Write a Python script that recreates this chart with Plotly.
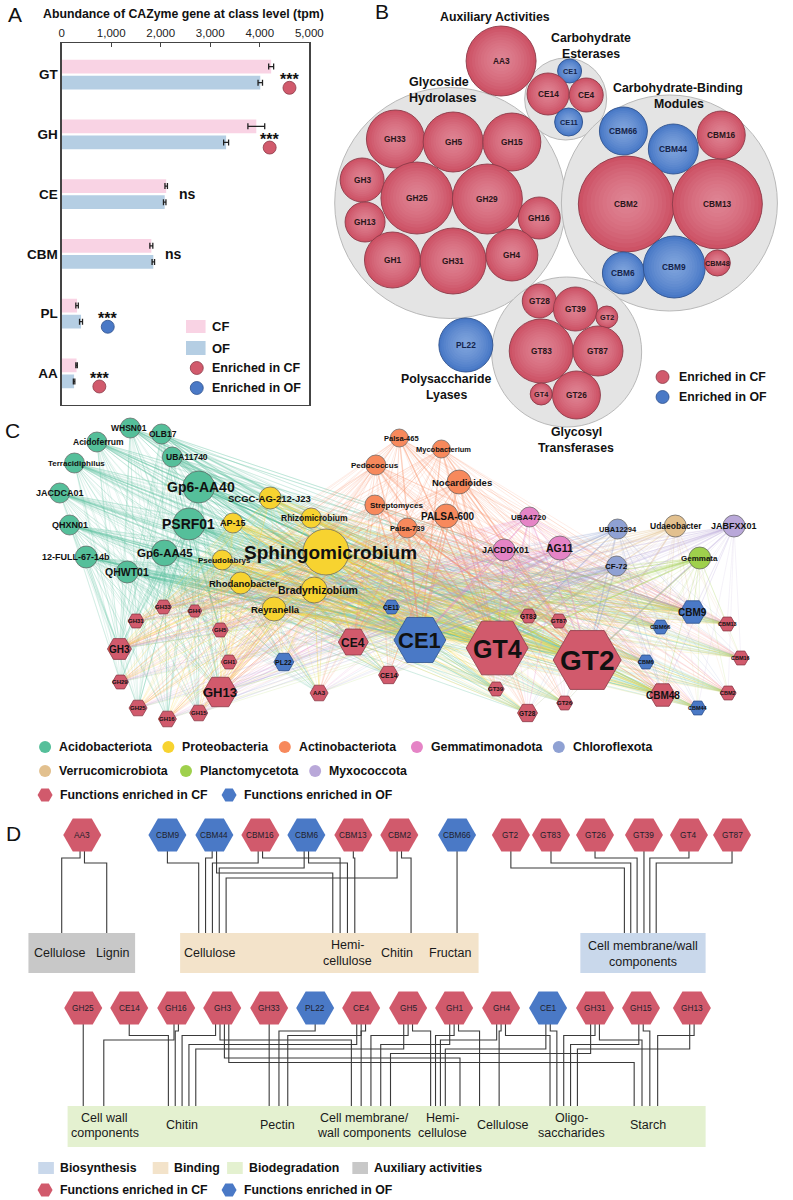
import plotly.graph_objects as go
from collections import defaultdict

FONT = "Liberation Sans, Arial, Helvetica, sans-serif"
W, H = 793, 1200

# ------------------------------------------------------------------ Panel A data
a_classes = ["GT", "GH", "CE", "CBM", "PL", "AA"]
a_cf = [4230, 3930, 2110, 1810, 310, 300]
a_cf_err = [50, 170, 25, 30, 25, 15]
a_of = [4010, 3320, 2080, 1850, 390, 250]
a_of_err = [45, 50, 25, 25, 30, 15]
a_sig = ["***", "***", "ns", "ns", "***", "***"]
a_sig_x = [4600, 4200, 2540, 2250, 930, 760]
a_enriched = ["CF", "CF", "", "", "OF", "CF"]
a_ticks = [0, 1000, 2000, 3000, 4000, 5000]

# ------------------------------------------------------------------ Panel B data
b_group_x = [457, 575, 681, 576]
b_group_y = [203, 99, 203, 352]
b_group_r = [115.5, 41, 108, 75]

b_names = ["AA3", "CE1", "CE14", "CE4", "CE11", "GH33", "GH5", "GH15", "GH3", "GH25",
           "GH29", "GH16", "GH13", "GH1", "GH31", "GH4", "CBM66", "CBM44", "CBM16",
           "CBM2", "CBM13", "CBM6", "CBM9", "CBM48", "GT28", "GT39", "GT2", "GT83",
           "GT87", "GT4", "GT26", "PL22"]
b_x = [509, 579, 557, 596, 578, 401, 460, 520, 367, 423, 495, 548, 370, 398, 460, 520,
       634, 685, 734, 637, 730, 634, 686, 730, 548, 585, 617, 550, 608, 550, 586, 473]
b_y = [61, 71, 94, 95, 122, 139, 142, 142, 180, 198, 199, 218, 222, 260, 261, 255,
       131, 149, 135, 204, 204, 273, 267, 263, 301, 309, 317, 351, 351, 394, 395, 345]
b_r = [35, 12, 21, 17, 14, 29, 30, 29, 22, 36, 35, 21, 20, 28, 33, 26,
       24, 25, 24, 48, 45, 21, 31, 13, 17, 22, 11, 32, 25, 11, 24, 27]
b_enr = ["CF", "OF", "CF", "CF", "OF", "CF", "CF", "CF", "CF", "CF", "CF", "CF", "CF",
         "CF", "CF", "CF", "OF", "OF", "CF", "CF", "CF", "OF", "OF", "CF", "CF", "CF",
         "CF", "CF", "CF", "CF", "CF", "OF"]

# ------------------------------------------------------------------ Panel C data
phyla = ["Acidobacteriota", "Proteobacteria", "Actinobacteriota", "Gemmatimonadota",
         "Chloroflexota", "Verrucomicrobiota", "Planctomycetota", "Myxococcota"]
phyla_color = ["#55bf9a", "#f7d330", "#f7895c", "#e584c6", "#8fa1d3", "#e2c08e",
               "#9fd04c", "#b9a8d9"]

t_names = ["WHSN01", "OLB17", "Acidoferrum", "UBA11740", "Terracidiphilus", "Gp6-AA40",
           "JACDCA01", "PSRF01", "QHXN01", "Gp6-AA45", "12-FULL-67-14b", "QHWT01",
           "SCGC-AG-212-J23", "AP-15", "Rhizomicrobium", "Sphingomicrobium", "Pseudolabrys",
           "Rhodanobacter", "Bradyrhizobium", "Reyranella",
           "Palsa-465", "Mycobacterium", "Pedococcus", "Streptomyces", "Nocardioides",
           "PALSA-600", "Palsa-739",
           "UBA4720", "JACDDX01", "AG11",
           "UBA12294", "CF-72",
           "Udaeobacter", "Gemmata", "JABFXX01"]
t_phylum = [0] * 12 + [1] * 8 + [2] * 7 + [3] * 3 + [4] * 2 + [5, 6, 7]
t_x = [130, 162, 96, 173, 73, 200, 58, 190, 68, 165, 85, 127,
       273, 235, 315, 330, 224, 243, 318, 277,
       405, 448, 381, 380, 466, 453, 413,
       538, 512, 569,
       628, 627,
       687, 712, 747]
t_y = [428, 434, 442, 457, 463, 487, 493, 524, 525, 553, 557, 572,
       498, 523, 518, 552, 560, 583, 590, 609,
       438, 449, 465, 505, 482, 516, 528,
       517, 550, 548,
       529, 566,
       526, 558, 526]
t_r = [10, 10, 10, 10, 10, 16, 10, 16, 10, 13, 11, 11,
       11, 10, 10, 23, 10, 11, 13, 12,
       9, 9, 10, 10, 12, 12, 10,
       10, 11, 12,
       10, 10,
       11, 11, 11]
t_lab_x = [129, 164, 98, 188, 75, 202, 58, 190, 68, 166, 75, 127,
           272, 235, 318, 335, 226, 246, 322, 278,
           407, 450, 380, 402, 469, 455, 413,
           538, 513, 569,
           628, 627,
           688, 712, 747]
t_font = [8.5, 8.5, 8.5, 8.5, 8, 14, 9, 14, 9, 11.5, 9, 10.5,
          9.5, 9, 8.5, 19, 8, 9.5, 10.5, 9.5,
          7.5, 7.5, 8, 8, 9.5, 10, 7.5,
          8, 9, 10.5,
          7.5, 8,
          8.5, 8, 9]

f_names = ["GH33", "GH4", "GH31", "GH5", "GH3", "CE4", "CE11", "CE1", "GT4", "GT2",
           "GH1", "PL22", "CBM6", "CBM16", "GH29", "CE14", "GH13", "AA3", "GT39", "CBM48",
           "CBM2", "GT26", "CBM44", "GH25", "GH15", "GH16", "GT28", "GT83", "GT87",
           "CBM9", "CBM66", "CBM13"]
f_enr = ["CF", "CF", "CF", "CF", "CF", "CF", "OF", "OF", "CF", "CF",
         "CF", "OF", "OF", "CF", "CF", "CF", "CF", "CF", "CF", "CF",
         "CF", "CF", "OF", "CF", "CF", "CF", "CF", "CF", "CF",
         "OF", "OF", "CF"]
f_x = [164, 196, 136, 222, 119, 358, 397, 426, 505, 597,
       231, 287, 657, 754, 120, 394, 222, 323, 504, 674,
       741, 574, 710, 138, 200, 168, 536, 537, 568,
       705, 672, 740]
f_y = [607, 611, 621, 630, 649, 642, 607, 640, 648, 660,
       662, 662, 662, 658, 682, 675, 692, 693, 689, 695,
       693, 703, 708, 708, 713, 719, 713, 616, 621,
       612, 627, 624]
f_r = [8, 7, 8, 8, 12, 15, 8, 26, 31, 34,
       8, 10, 8, 8, 8, 10, 17, 9, 8, 13,
       8, 8, 8, 9, 9, 9, 10, 8, 8,
       13, 8, 8]
f_font = [6, 6, 6, 6, 10, 12, 6.5, 22, 25, 28,
          6, 7, 5.5, 5.5, 6, 7, 13, 6, 6, 10,
          5.5, 6, 5.5, 6, 6, 6, 6.5, 6.5, 6,
          10, 6, 5.5]

# ------------------------------------------------------------------ Panel D data
d_top_names = ["AA3", "CBM9", "CBM44", "CBM16", "CBM6", "CBM13", "CBM2", "CBM66",
               "GT2", "GT83", "GT26", "GT39", "GT4", "GT87"]
d_top_x = [81, 168, 216, 263, 310, 358, 405, 464, 519, 560, 605, 655, 701, 745]
d_top_enr = ["CF", "OF", "OF", "CF", "OF", "CF", "CF", "OF",
             "CF", "CF", "CF", "CF", "CF", "CF"]
d_top_edges = [("AA3", "AA-Cellulose"), ("AA3", "Lignin"),
               ("CBM9", "Cellulose"), ("CBM44", "Cellulose"), ("CBM44", "Hemicellulose"),
               ("CBM16", "Cellulose"), ("CBM16", "Hemicellulose"),
               ("CBM6", "Cellulose"), ("CBM6", "Hemicellulose"),
               ("CBM13", "Hemicellulose"), ("CBM2", "Cellulose"), ("CBM2", "Chitin"),
               ("CBM66", "Fructan"),
               ("GT2", "CellWall"), ("GT83", "CellWall"), ("GT26", "CellWall"),
               ("GT39", "CellWall"), ("GT4", "CellWall"), ("GT87", "CellWall")]
d_top_entry = {"AA-Cellulose": (60, 0), "Lignin": (106, 0), "Cellulose": (200, 7),
               "Hemicellulose": (337, 7.5), "Chitin": (417, 0), "Fructan": (464, 0),
               "CellWall": (635, 6.5)}

d_bot_names = ["GH25", "CE14", "GH16", "GH3", "GH33", "PL22", "CE4", "GH5", "GH1",
               "GH4", "CE1", "GH31", "GH15", "GH13"]
d_bot_x = [82, 129, 177, 224, 272, 319, 366, 414, 461, 509, 557, 605, 652, 704]
d_bot_enr = ["CF", "CF", "CF", "CF", "CF", "OF", "CF", "CF", "CF", "CF", "OF", "CF",
             "CF", "CF"]
d_bot_edges = [("GH25", "CellWall"), ("GH16", "CellWall"),
               ("CE14", "Chitin"), ("GH16", "Chitin"), ("GH3", "Chitin"), ("CE4", "Chitin"),
               ("GH5", "Chitin"),
               ("GH33", "Pectin"), ("PL22", "Pectin"), ("CE4", "Pectin"),
               ("GH3", "CellMem"), ("CE4", "CellMem"), ("GH5", "CellMem"), ("GH1", "CellMem"),
               ("GH31", "CellMem"),
               ("GH5", "Hemi"), ("GH1", "Hemi"), ("GH4", "Hemi"), ("CE1", "Hemi"),
               ("GH3", "Cellulose"), ("GH1", "Cellulose"), ("GH4", "Cellulose"),
               ("GH31", "Oligo"), ("GH4", "Oligo"), ("CE1", "Oligo"), ("GH15", "Oligo"),
               ("GH13", "Oligo"),
               ("GH31", "Starch"), ("GH15", "Starch"), ("GH13", "Starch"), ("GH3", "Starch")]
d_bot_entry = {"CellWall": (81, 22), "Chitin": (169, 7), "Pectin": (273, 9),
               "CellMem": (356, 10), "Hemi": (437, 5), "Cellulose": (467, 20),
               "Oligo": (559, 7), "Starch": (645, 8)}

# ------------------------------------------------------------------ helpers
RED, BLUE = "#d15a6c", "#4a79c6"
RED_EDGE, BLUE_EDGE = "#8c3a48", "#2e518d"
ann = []
shapes = []


def txt(x, y, s, size, bold=False, color="#111", xanchor="center", xref="x2", yref="y2"):
    ann.append(dict(x=x, y=y, xref=xref, yref=yref, showarrow=False,
                    text=(f"<b>{s}</b>" if bold else s), xanchor=xanchor, yanchor="middle",
                    font=dict(family=FONT, size=size, color=color)))


fig = go.Figure()

# ------------------------------------------------------------------ Panel A
pos = list(range(len(a_classes)))
fig.add_trace(go.Bar(x=a_cf, y=[p - 0.135 for p in pos], width=0.23, orientation="h",
                     marker=dict(color="#f9d3e4", line=dict(width=0)),
                     error_x=dict(type="data", array=a_cf_err, color="#222", thickness=1.3, width=3),
                     xaxis="x", yaxis="y", hoverinfo="skip", showlegend=False))
fig.add_trace(go.Bar(x=a_of, y=[p + 0.135 for p in pos], width=0.23, orientation="h",
                     marker=dict(color="#b5cee3", line=dict(width=0)),
                     error_x=dict(type="data", array=a_of_err, color="#222", thickness=1.3, width=3),
                     xaxis="x", yaxis="y", hoverinfo="skip", showlegend=False))
for grp, col, ec in [("CF", RED, RED_EDGE), ("OF", BLUE, BLUE_EDGE)]:
    idx = [i for i in pos if a_enriched[i] == grp]
    fig.add_trace(go.Scatter(x=[a_sig_x[i] for i in idx], y=[i + 0.22 for i in idx],
                             mode="markers", marker=dict(size=13, color=col, opacity=1,
                                                         line=dict(width=0.8, color=ec)),
                             xaxis="x", yaxis="y", hoverinfo="skip", showlegend=False, cliponaxis=False))
for i in pos:
    if a_sig[i] == "***":
        txt(a_sig_x[i], i + 0.08, a_sig[i], 16, True, "#111", xref="x", yref="y")
    else:
        txt(a_sig_x[i], i, a_sig[i], 14, True, "#111", xref="x", yref="y")

txt(12, 14, "A", 21, False, "#111")
txt(184, 14, "Abundance of CAZyme gene at class level (tpm)", 12.3, True, "#111")
shapes.append(dict(type="rect", xref="x2", yref="y2", x0=187, x1=207, y0=320, y1=333,
                   fillcolor="#f9d3e4", line=dict(width=0)))
shapes.append(dict(type="rect", xref="x2", yref="y2", x0=187, x1=207, y0=341, y1=355,
                   fillcolor="#b5cee3", line=dict(width=0)))
fig.add_trace(go.Scatter(x=[198, 198], y=[368, 388], mode="markers",
                         marker=dict(size=13, color=[RED, BLUE], opacity=1,
                                     line=dict(width=0.8, color=[RED_EDGE, BLUE_EDGE])),
                         xaxis="x2", yaxis="y2", hoverinfo="skip", showlegend=False))
txt(212, 326, "CF", 13, True, xanchor="left")
txt(212, 348, "OF", 13, True, xanchor="left")
txt(212, 368, "Enriched in CF", 12.5, True, xanchor="left")
txt(212, 388, "Enriched in OF", 12.5, True, xanchor="left")

# ------------------------------------------------------------------ Panel B
fig.add_trace(go.Scatter(x=b_group_x, y=b_group_y, mode="markers",
                         marker=dict(size=[2 * r for r in b_group_r], color="#e4e4e4", opacity=1,
                                     line=dict(width=1, color="#b9b9b9")),
                         xaxis="x2", yaxis="y2", hoverinfo="skip", showlegend=False))
fig.add_trace(go.Scatter(x=b_x, y=b_y, mode="markers",
                         marker=dict(size=[2 * r for r in b_r], opacity=1,
                                     color=["#cd5265" if e == "CF" else "#4878c6" for e in b_enr],
                                     line=dict(width=0.9, color=[RED_EDGE if e == "CF" else BLUE_EDGE for e in b_enr])),
                         xaxis="x2", yaxis="y2", hoverinfo="skip", showlegend=False))
n_layers = 11
for li in range(1, n_layers + 1):
    f = 1 - li / (n_layers + 1)
    fig.add_trace(go.Scatter(x=b_x, y=[y - 0.06 * r * (1 - f) for y, r in zip(b_y, b_r)], mode="markers",
                             marker=dict(size=[2 * r * f for r in b_r],
                                         color=["#f2b3bd" if e == "CF" else "#a9c3ee" for e in b_enr],
                                         opacity=0.075, line=dict(width=0)),
                             xaxis="x2", yaxis="y2", hoverinfo="skip", showlegend=False))
for n, x, y, r, e in zip(b_names, b_x, b_y, b_r, b_enr):
    txt(x, y, n, 8.3 if r >= 15 else 7.3, True, "#2a1519" if e == "CF" else "#14234a")

txt(387, 11, "B", 21, False, "#111")
txt(503, 17, "Auxiliary Activities", 12.3, True)
txt(601, 38, "Carbohydrate", 12.3, True)
txt(601, 54, "Esterases", 12.3, True)
txt(446, 82, "Glycoside", 12.5, True)
txt(449, 98, "Hydrolases", 12.5, True)
txt(690, 88, "Carbohydrate-Binding", 12.3, True)
txt(691, 104, "Modules", 12.3, True)
txt(453, 379, "Polysaccharide", 12.3, True)
txt(453, 395, "Lyases", 12.3, True)
txt(586, 432, "Glycosyl", 12.3, True)
txt(586, 448, "Transferases", 12.3, True)
fig.add_trace(go.Scatter(x=[674, 674], y=[377, 397], mode="markers",
                         marker=dict(size=13, color=[RED, BLUE], opacity=1,
                                     line=dict(width=0.8, color=[RED_EDGE, BLUE_EDGE])),
                         xaxis="x2", yaxis="y2", hoverinfo="skip", showlegend=False))
txt(689, 377, "Enriched in CF", 12.3, True, xanchor="left")
txt(689, 397, "Enriched in OF", 12.3, True, xanchor="left")

# ------------------------------------------------------------------ Panel C
def rgba(hexc, a):
    h = hexc.lstrip("#")
    return "rgba(%d,%d,%d,%.2f)" % (int(h[0:2], 16), int(h[2:4], 16), int(h[4:6], 16), a)


wbins = [(0, 22, 0.55, 0.28), (22, 34, 0.85, 0.32), (34, 999, 1.4, 0.40)]
for pi, pcol in enumerate(phyla_color):
    for lo, hi, w, a in wbins:
        xs, ys = [], []
        for ti in range(len(t_names)):
            if t_phylum[ti] != pi:
                continue
            for fi in range(len(f_names)):
                s = t_r[ti] + f_r[fi]
                if lo <= s < hi:
                    xs += [t_x[ti], f_x[fi], None]
                    ys += [t_y[ti], f_y[fi], None]
        if xs:
            fig.add_trace(go.Scatter(x=xs, y=ys, mode="lines",
                                     line=dict(color=rgba(pcol, a), width=w),
                                     xaxis="x2", yaxis="y2", hoverinfo="skip", showlegend=False))

fig.add_trace(go.Scatter(x=t_x, y=t_y, mode="markers",
                         marker=dict(size=[2 * r for r in t_r], color=[phyla_color[p] for p in t_phylum],
                                     opacity=1, line=dict(width=0.7, color="#5e5e5e")),
                         xaxis="x2", yaxis="y2", hoverinfo="skip", showlegend=False))
fig.add_trace(go.Scatter(x=f_x, y=f_y, mode="markers",
                         marker=dict(symbol="hexagon2", size=[2 * r for r in f_r], opacity=1,
                                     color=[RED if e == "CF" else BLUE for e in f_enr],
                                     line=dict(width=0.8, color=[RED_EDGE if e == "CF" else BLUE_EDGE for e in f_enr])),
                         xaxis="x2", yaxis="y2", hoverinfo="skip", showlegend=False))
for n, x, y, fs in zip(t_names, t_lab_x, t_y, t_font):
    txt(x, y, n, fs, True, "#111")
for n, x, y, fs in zip(f_names, f_x, f_y, f_font):
    txt(x, y + (0.5 if fs > 9 else 0), n, fs, True, "#111")
txt(10, 430, "C", 21, False, "#111")

leg_rows = [(747, [0, 1, 2, 3, 4], [43, 169, 288, 423, 568]), (771, [5, 6, 7], [43, 187, 319])]
for yrow, ids, xs in leg_rows:
    fig.add_trace(go.Scatter(x=xs, y=[yrow] * len(xs), mode="markers",
                             marker=dict(size=12, color=[phyla_color[i] for i in ids], opacity=1),
                             xaxis="x2", yaxis="y2", hoverinfo="skip", showlegend=False))
    for i, x in zip(ids, xs):
        txt(x + 12, yrow, phyla[i], 12.3, True, "#111", xanchor="left")


def hex_legend(yrow):
    fig.add_trace(go.Scatter(x=[43, 231], y=[yrow, yrow], mode="markers",
                             marker=dict(symbol="hexagon2", size=15, color=[RED, BLUE], opacity=1),
                             xaxis="x2", yaxis="y2", hoverinfo="skip", showlegend=False))
    txt(56, yrow, "Functions enriched in CF", 12.3, True, "#111", xanchor="left")
    txt(244, yrow, "Functions enriched in OF", 12.3, True, "#111", xanchor="left")


hex_legend(795)

# ------------------------------------------------------------------ Panel D
def route(names, xs_src, edges, entry_cfg, y_src, y_tgt, level0, step_max):
    sx = dict(zip(names, xs_src))
    out, inc = defaultdict(list), defaultdict(list)
    for s, t in edges:
        out[s].append(t)
        inc[t].append(s)
    exits, entries = {}, {}
    for s, ts in out.items():
        ts_sorted = sorted(ts, key=lambda t: entry_cfg[t][0])
        k = len(ts_sorted)
        for j, t in enumerate(ts_sorted):
            exits[(s, t)] = sx[s] + (j - (k - 1) / 2) * 4.5
    for t, ss in inc.items():
        ss_sorted = sorted(ss, key=lambda s: sx[s])
        base, spread = entry_cfg[t]
        for j, s in enumerate(ss_sorted):
            entries[(s, t)] = base + j * spread
    levels, assign = [], {}
    for e in sorted(edges, key=lambda e: abs(exits[e] - entries[e])):
        a, b = exits[e], entries[e]
        if abs(a - b) < 1.5:
            assign[e] = None
            continue
        lo, hi = min(a, b) - 4, max(a, b) + 4
        L = 0
        while True:
            if L >= len(levels):
                levels.append([])
            if all(hi < l or lo > h for l, h in levels[L]):
                levels[L].append((lo, hi))
                assign[e] = L
                break
            L += 1
    nlev = max(1, len(levels))
    step = min(step_max, (y_tgt - 8 - level0) / max(nlev - 1, 1))
    X, Y = [], []
    for e in edges:
        a, b = exits[e], entries[e]
        if assign[e] is None:
            X += [a, a, None]
            Y += [y_src, y_tgt, None]
        else:
            yl = level0 + assign[e] * step
            X += [a, a, b, b, None]
            Y += [y_src, yl, yl, y_tgt, None]
    return X, Y


X1, Y1 = route(d_top_names, d_top_x, d_top_edges, d_top_entry, 850, 933, 858, 5)
X2, Y2 = route(d_bot_names, d_bot_x, d_bot_edges, d_bot_entry, 1023, 1106, 1031, 4.5)
fig.add_trace(go.Scatter(x=X1 + X2, y=Y1 + Y2, mode="lines", line=dict(color="#3a3a3a", width=1.1),
                         xaxis="x2", yaxis="y2", hoverinfo="skip", showlegend=False))

for names, xs, enr, yrow in [(d_top_names, d_top_x, d_top_enr, 835), (d_bot_names, d_bot_x, d_bot_enr, 1008)]:
    fig.add_trace(go.Scatter(x=xs, y=[yrow] * len(xs), mode="markers",
                             marker=dict(symbol="hexagon2", size=38, opacity=1,
                                         color=[RED if e == "CF" else BLUE for e in enr], line=dict(width=0)),
                             xaxis="x2", yaxis="y2", hoverinfo="skip", showlegend=False))
    for n, x in zip(names, xs):
        txt(x, yrow, n, 8.3, False, "#1e1e2a")

box_defs = [(26, 135, 933, 973, "#c8c8c8"), (181, 486, 933, 973, "#f3e3ca"),
            (590, 718, 933, 973, "#c9d8eb"), (66, 718, 1106, 1147, "#e4f1d0")]
for x0, x1, y0, y1, c in box_defs:
    shapes.append(dict(type="rect", xref="x2", yref="y2", x0=x0, x1=x1, y0=y0, y1=y1,
                       fillcolor=c, line=dict(width=0), layer="below"))
d_labels = [(58, 953, "Cellulose"), (112, 953, "Lignin"), (211, 953, "Cellulose"),
            (352, 945, "Hemi-"), (352, 961, "cellulose"), (403, 953, "Chitin"),
            (457, 953, "Fructan"), (654, 946, "Cell membrane/wall"), (654, 962, "components"),
            (104, 1118, "Cell wall"), (104, 1133, "components"), (183, 1125, "Chitin"),
            (280, 1125, "Pectin"), (369, 1118, "Cell membrane/"), (369, 1133, "wall components"),
            (449, 1118, "Hemi-"), (449, 1133, "cellulose"), (510, 1125, "Cellulose"),
            (581, 1118, "Oligo-"), (581, 1133, "saccharides"), (659, 1125, "Starch")]
for x, y, s in d_labels:
    txt(x, y, s, 12.5, False, "#1a1a1a")
txt(11, 833, "D", 21, False, "#111")

leg_boxes = [(44, "#c9d8eb", "Biosynthesis"), (161, "#f3e3ca", "Binding"),
             (237, "#e4f1d0", "Biodegradation"), (365, "#c8c8c8", "Auxiliary activities")]
for x, c, s in leg_boxes:
    shapes.append(dict(type="rect", xref="x2", yref="y2", x0=x - 8, x1=x + 8, y0=1162, y1=1174,
                       fillcolor=c, line=dict(width=0)))
    txt(x + 12, 1168, s, 12.3, True, "#111", xanchor="left")
hex_legend(1190)

# ------------------------------------------------------------------ layout
fig.update_layout(
    width=W, height=H, margin=dict(l=0, r=0, t=0, b=0),
    paper_bgcolor="white", plot_bgcolor="rgba(0,0,0,0)",
    barmode="overlay", showlegend=False,
    font=dict(family=FONT),
    xaxis=dict(domain=[60 / W, 313 / W], range=[0, 5000], side="top", tickvals=a_ticks,
               ticktext=[f"{v:,}" for v in a_ticks], ticks="inside", ticklen=4, tickcolor="#444",
               showline=True, mirror=True, linecolor="#444", linewidth=1.3, showgrid=False,
               zeroline=False, tickfont=dict(family=FONT, size=11.5, color="#222"),
               anchor="y", fixedrange=True),
    yaxis=dict(domain=[1 - 405 / H, 1 - 43 / H], range=[5.53, -0.53], tickvals=pos,
               ticktext=[f"<b>{c}</b>" for c in a_classes], ticks="", showline=True, mirror=True,
               linecolor="#444", linewidth=1.3, showgrid=False, zeroline=False,
               tickfont=dict(family=FONT, size=13.5, color="#111"), anchor="x", fixedrange=True),
    xaxis2=dict(domain=[0, 1], range=[0, W], visible=False, anchor="y2", fixedrange=True),
    yaxis2=dict(domain=[0, 1], range=[H, 0], visible=False, anchor="x2", fixedrange=True),
    annotations=ann, shapes=shapes,
)
fig.write_html("out.html", config={"displayModeBar": False, "staticPlot": True},
               post_script="document.body.style.margin='0';document.body.style.overflow='hidden';")
